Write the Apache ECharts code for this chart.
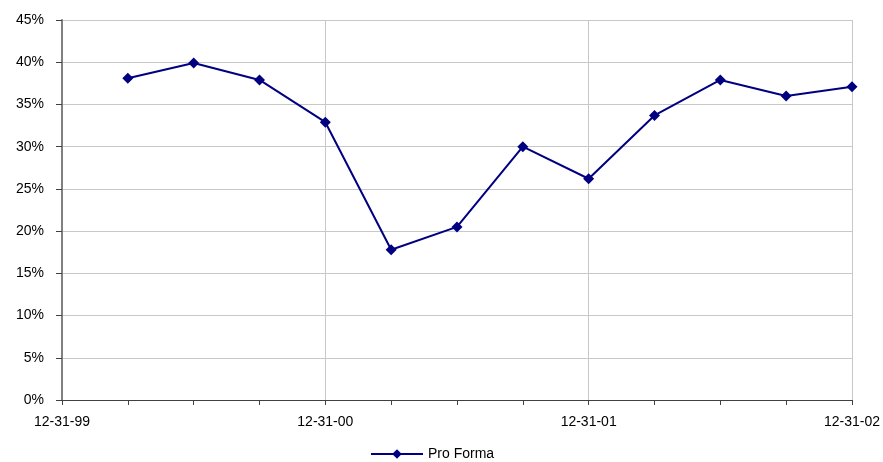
<!DOCTYPE html>
<html>
<head>
<meta charset="utf-8">
<script src="https://cdn.jsdelivr.net/npm/echarts@6/dist/echarts.min.js"></script>
<style>
html,body{margin:0;padding:0;background:#fff;}
#chart{width:883px;height:462px;}
</style>
</head>
<body>
<div id="chart"></div>
<script>
// Quarter-end dates; only year-end labels are shown
const quarters = ['12-31-99','03-31-00','06-30-00','09-30-00','12-31-00','03-31-01','06-30-01','09-30-01','12-31-01','03-31-02','06-30-02','09-30-02','12-31-02'];
// Pro Forma margin, percent (no value at the first date)
const proForma = [null, 38.1, 39.9, 37.9, 32.9, 17.8, 20.5, 30.0, 26.2, 33.7, 37.9, 36.0, 37.1];
const seriesName = 'Pro Forma';

const chart = echarts.init(document.getElementById('chart'));
const font = 'Liberation Sans, Arial, sans-serif';

chart.setOption({
  animation: false,
  backgroundColor: '#fff',
  grid: { left: 62, right: 31, top: 20, bottom: 62, containLabel: false },
  legend: {
    data: [seriesName],
    bottom: 0,
    left: 365,
    padding: [0, 5, 1, 5],
    itemWidth: 52,
    itemHeight: 12,
    itemGap: 5,
    textStyle: { fontFamily: font, fontSize: 14, color: '#000' }
  },
  xAxis: {
    type: 'category',
    data: quarters,
    boundaryGap: false,
    axisLine: { lineStyle: { color: '#404040', width: 1 } },
    axisTick: { show: true, interval: 0, length: 5, lineStyle: { color: '#404040' } },
    axisLabel: { interval: 3, fontFamily: font, fontSize: 14, color: '#000', margin: 15 },
    splitLine: { show: true, interval: 3, lineStyle: { color: '#c8c8c8', width: 1 } }
  },
  yAxis: {
    type: 'value',
    min: 0,
    max: 45,
    interval: 5,
    axisLine: { show: true, lineStyle: { color: '#808080', width: 2 } },
    axisTick: { show: true, inside: false, length: 6, lineStyle: { color: '#404040' } },
    axisLabel: { formatter: '{value}%', fontFamily: font, fontSize: 14, color: '#000', margin: 18 },
    splitLine: { show: true, lineStyle: { color: '#c8c8c8', width: 1 } }
  },
  series: [{
    name: seriesName,
    type: 'line',
    data: proForma,
    connectNulls: false,
    symbol: 'diamond',
    symbolSize: 11,
    lineStyle: { color: '#000080', width: 2 },
    itemStyle: { color: '#000080' }
  }]
});
</script>
</body>
</html>
